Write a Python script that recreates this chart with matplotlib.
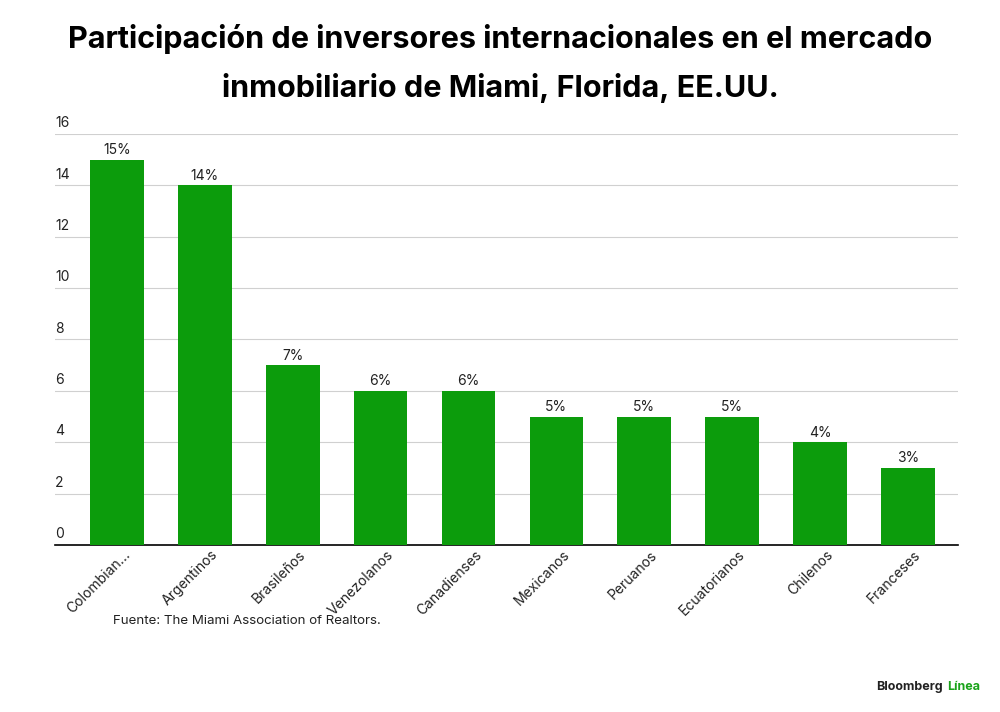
import matplotlib.pyplot as plt
import matplotlib.transforms as mtransforms
import numpy as np

categories = ["Colombian...", "Argentinos", "Brasileños", "Venezolanos", "Canadienses",
              "Mexicanos", "Peruanos", "Ecuatorianos", "Chilenos", "Franceses"]
values = [15, 14, 7, 6, 6, 5, 5, 5, 4, 3]
yticks = [0, 2, 4, 6, 8, 10, 12, 14, 16]

plt.rcParams['font.family'] = ['Inter', 'DejaVu Sans']
fig = plt.figure(figsize=(10, 7.12), dpi=100)
ax = fig.add_axes([0.055, 0.2346, 0.903, 0.5772])

x = np.arange(len(categories))
ax.bar(x, values, width=0.61, color='#0c9c0c', zorder=3)
for xi, v in zip(x, values):
    ax.text(xi, v + 0.1, f"{v}%", ha='center', va='bottom', fontsize=10, color='#222222')

ax.set_xlim(-0.705, 9.57)
ax.set_ylim(0, 16)
ax.set_yticks(yticks)
ax.yaxis.grid(True, color='#d0d0d0', linewidth=0.8, zorder=0)
ax.tick_params(axis='y', length=0, labelleft=False)
for t in yticks:
    ax.text(0.0, t + 0.15, str(t), transform=ax.get_yaxis_transform(), ha='left', va='bottom',
            fontsize=10, color='#222222')
ax.set_xticks(x)
ax.set_xticklabels(categories, rotation=45, ha='right', rotation_mode='anchor', fontsize=10, color='#222222')
ax.tick_params(axis='x', length=0, pad=2)
shift = mtransforms.ScaledTranslation(6 / 100, 0, fig.dpi_scale_trans)
for lab in ax.get_xticklabels():
    lab.set_transform(lab.get_transform() + shift)
for s in ['top', 'right', 'left']:
    ax.spines[s].set_visible(False)
ax.spines['bottom'].set_color('black')
ax.spines['bottom'].set_linewidth(1.2)

fig.text(0.5, 0.945, "Participación de inversores internacionales en el mercado",
         ha='center', va='center', fontsize=22, fontweight='bold')
fig.text(0.5, 0.877, "inmobiliario de Miami, Florida, EE.UU.",
         ha='center', va='center', fontsize=22, fontweight='bold')
fig.text(0.113, 0.128, "Fuente: The Miami Association of Realtors.", fontsize=9.6, color='#222222', va='center')
fig.text(0.943, 0.035, "Bloomberg", fontsize=9, fontweight='bold', color='#222222', va='center', ha='right')
fig.text(0.947, 0.035, "Línea", fontsize=9, fontweight='bold', color='#1aa31a', va='center', ha='left')

fig.savefig('out.png', dpi=100)
